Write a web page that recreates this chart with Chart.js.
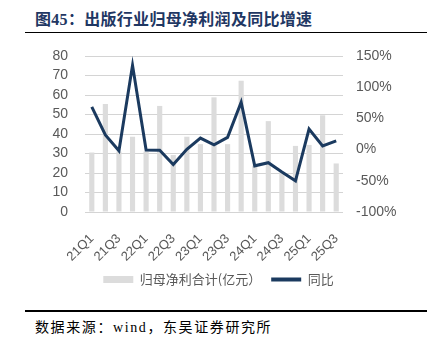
<!DOCTYPE html>
<html>
<head>
<meta charset="utf-8">
<script src="https://cdn.jsdelivr.net/npm/chart.js@4.4.1/dist/chart.umd.min.js"></script>
<style>
  body { margin: 0; background: #fff; width: 437px; height: 349px; position: relative; overflow: hidden; }
  #title { position: absolute; left: 35px; top: 6px; font: bold 16px "Liberation Serif", "Noto Sans CJK SC"; color: #1f3763; white-space: nowrap; letter-spacing: 0.3px; }
  .rule { position: absolute; left: 25px; width: 402px; height: 1.5px; background: #000; }
  #src { position: absolute; left: 35px; top: 316px; font: 14px "Liberation Serif", "Noto Sans CJK SC"; color: #000; white-space: nowrap; letter-spacing: 1.6px; }
  #wrap { position: absolute; left: 0; top: 0; width: 437px; height: 300px; }
</style>
</head>
<body>
<div id="title">图45：出版行业归母净利润及同比增速</div>
<div class="rule" style="top:31.5px"></div>
<div id="wrap"><canvas id="c"></canvas></div>
<div class="rule" style="top:310px"></div>
<div id="src">数据来源：wind，东吴证券研究所</div>
<script>
// quarters and series
const quarters = ['21Q1', '21Q2', '21Q3', '21Q4', '22Q1', '22Q2', '22Q3', '22Q4', '23Q1', '23Q2',
  '23Q3', '23Q4', '24Q1', '24Q2', '24Q3', '24Q4', '25Q1', '25Q2', '25Q3'];
const profit = [30.5, 55.4, 31, 38.6, 31, 54.4, 29.2, 38.6, 34.8, 58.8,
  34.8, 67.3, 23.8, 46.6, 20.3, 33.9, 34.4, 49.6, 24.9];
const yoy = [68.5, 23.4, -2, 135, -0.5, -1, -24, 0.5, 18.5, 7.6,
  19.6, 76, -26, -21, -36, -50, 33, 6, 14];

const leftMin = 0, leftMax = 80, leftStep = 10;
const rightMin = -100, rightMax = 150, rightStep = 50;

const GRAY = '#595959';
const tickFont = { family: "'Liberation Sans', Arial, sans-serif", size: 14 };

new Chart(document.getElementById('c'), {
  data: {
    labels: quarters,
    datasets: [
      {
        type: 'line',
        label: '同比',
        data: yoy,
        yAxisID: 'y1',
        borderColor: '#1b3a5f',
        backgroundColor: '#1b3a5f',
        borderWidth: 3,
        pointRadius: 0,
        tension: 0,
        order: 0
      },
      {
        type: 'bar',
        label: '归母净利合计(亿元）',
        data: profit,
        yAxisID: 'y',
        backgroundColor: '#dcdcdc',
        borderWidth: 0,
        categoryPercentage: 1,
        barPercentage: 0.38,
        order: 1
      }
    ]
  },
  options: {
    responsive: true,
    maintainAspectRatio: false,
    animation: false,
    layout: { padding: { top: 56, bottom: 4, left: 0, right: 0 } },
    plugins: {
      tooltip: { enabled: false },
      legend: {
        position: 'bottom',
        reverse: true,
        labels: {
          usePointStyle: true,
          pointStyleWidth: 30,
          boxHeight: 7,
          padding: 10,
          color: GRAY,
          font: { family: "'Noto Sans CJK SC', sans-serif", size: 13 },
          generateLabels: (chart) => chart.data.datasets.map((ds, i) => ({
            text: ds.label,
            fillStyle: ds.type === 'bar' ? ds.backgroundColor : ds.borderColor,
            strokeStyle: ds.type === 'bar' ? ds.backgroundColor : ds.borderColor,
            lineWidth: ds.type === 'bar' ? 0 : 4,
            pointStyle: ds.type === 'bar' ? 'rect' : 'line',
            fontColor: GRAY,
            datasetIndex: i
          }))
        }
      }
    },
    scales: {
      x: {
        grid: { display: false, drawTicks: false },
        border: { display: false },
        ticks: {
          autoSkip: false,
          maxRotation: 45,
          minRotation: 45,
          padding: 19,
          color: GRAY,
          font: { family: tickFont.family, size: 13 },
          callback: (v, i) => (i % 2 === 0 ? quarters[i] : '')
        },
        afterFit: (s) => { s.height = 51; }
      },
      y: {
        position: 'left',
        min: leftMin,
        max: leftMax,
        grid: { color: '#d4d4d4', lineWidth: 1, drawTicks: false },
        border: { display: false },
        ticks: { autoSkip: false, stepSize: leftStep, padding: 17, color: GRAY, font: tickFont },
        afterFit: (s) => { s.width = 85; }
      },
      y1: {
        position: 'right',
        min: rightMin,
        max: rightMax,
        grid: { display: false, drawTicks: false },
        border: { display: false },
        ticks: { autoSkip: false, stepSize: rightStep, padding: 13, color: GRAY, font: tickFont, callback: (v) => v + '%' },
        afterFit: (s) => { s.width = 94; }
      }
    }
  }
});
</script>
</body>
</html>
